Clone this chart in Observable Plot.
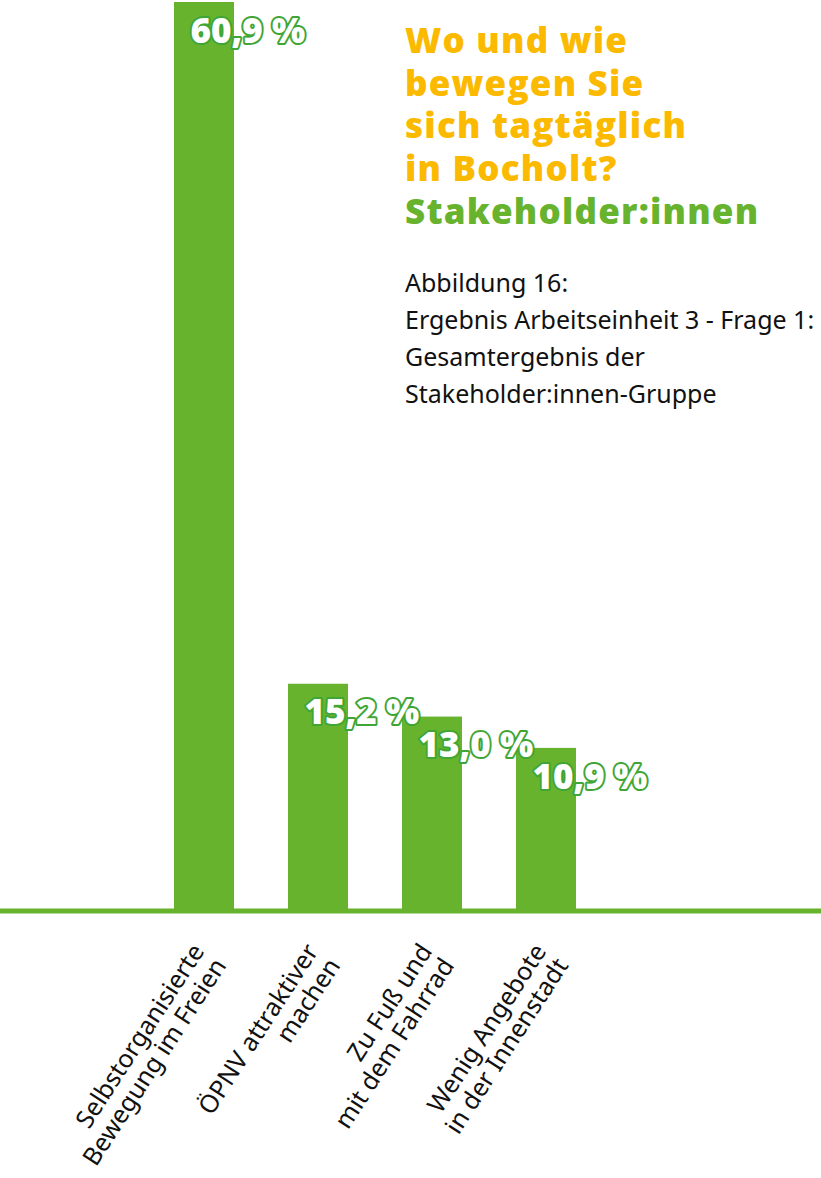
<!DOCTYPE html>
<html>
<head>
<meta charset="utf-8">
<script src="https://cdn.jsdelivr.net/npm/d3@7"></script>
<script src="https://cdn.jsdelivr.net/npm/@observablehq/plot@0.6"></script>
<style>
  html, body { margin: 0; padding: 0; background: #fff; overflow: hidden; }
  #wrap { position: relative; width: 821px; height: 1178px; overflow: hidden; }
  #chart { position: absolute; left: 0; top: 0; }
  #title { position: absolute; left: 405px; top: 19px; font-family: "Open Sans", sans-serif; font-weight: 800; font-size: 35px; line-height: 42.7px; color: #fbba00; white-space: nowrap; letter-spacing: 1.2px; }
  #title .green { color: #67b32e; }
  #subtitle { position: absolute; left: 405px; top: 264px; font-family: "Noto Sans", sans-serif; font-size: 25px; line-height: 37px; color: #111; white-space: nowrap; }
  g[aria-label="value-label"] text { letter-spacing: 1.2px; }
</style>
</head>
<body>
<div id="wrap">
  <div id="chart"></div>
  <div id="title"></div>
  <div id="subtitle"></div>
</div>
<script>
const categories = [
  "Selbstorganisierte\nBewegung im Freien",
  "ÖPNV attraktiver\nmachen",
  "Zu Fuß und\nmit dem Fahrrad",
  "Wenig Angebote\nin der Innenstadt"
];
const values = [60.9, 15.2, 13.0, 10.9];
const titleLines = ["Wo und wie", "bewegen Sie", "sich tagtäglich", "in Bocholt?"];
const titleGreen = "Stakeholder:innen";
const subtitleLines = [
  "Abbildung 16:",
  "Ergebnis Arbeitseinheit 3 - Frage 1:",
  "Gesamtergebnis der",
  "Stakeholder:innen-Gruppe"
];

const data = categories.map((c, i) => ({cat: c, value: values[i]}));
const fmt = v => v.toFixed(1).replace(".", ",") + " %";

const green = "#67b32e";
const chart = Plot.plot({
  width: 821,
  height: 1178,
  marginTop: 2,
  marginBottom: 267.5,
  marginLeft: 0,
  marginRight: 0,
  x: {domain: categories, range: [118.5, 631], padding: 0.476, axis: null},
  y: {domain: [0, 60.9], axis: null},
  style: {background: "transparent", overflow: "visible"},
  marks: [
    Plot.barY(data, {x: "cat", y: "value", fill: green}),
    Plot.ruleY([0], {stroke: green, strokeWidth: 5}),
    Plot.text(data, {
      x: "cat", y: "value", text: d => fmt(d.value),
      dx: -14, dy: 29, textAnchor: "start",
      fill: "white", stroke: "#3fa535", strokeWidth: 4, paintOrder: "stroke",
      fontSize: 35, fontWeight: 800, fontFamily: "Open Sans",
      ariaLabel: "value-label"
    }),
    Plot.text(data, {
      x: "cat", y: d => 0, text: "cat",
      dx: -15, dy: 30, rotate: -57, textAnchor: "end", lineAnchor: "top",
      lineHeight: 1.05, fontSize: 25, fontFamily: "Noto Sans", fill: "#111"
    })
  ]
});
document.getElementById("chart").appendChild(chart);

const t = document.getElementById("title");
t.innerHTML = titleLines.map(s => `<div>${s}</div>`).join("") + `<div class="green">${titleGreen}</div>`;
document.getElementById("subtitle").innerHTML = subtitleLines.map(s => `<div>${s}</div>`).join("");
</script>
</body>
</html>
